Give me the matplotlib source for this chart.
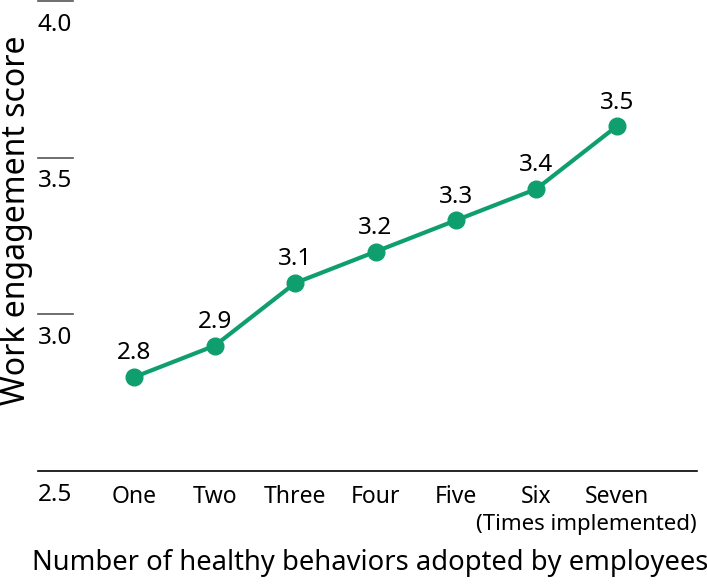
import numpy as np
import matplotlib
matplotlib.use('Agg')
import matplotlib.pyplot as plt
import matplotlib.transforms as mtransforms

plt.rcParams['font.family'] = ['Noto Sans', 'DejaVu Sans']

categories = ['One', 'Two', 'Three', 'Four', 'Five', 'Six', 'Seven']
scores = [2.8, 2.9, 3.1, 3.2, 3.3, 3.4, 3.6]
score_labels = ['2.8', '2.9', '3.1', '3.2', '3.3', '3.4', '3.5']
y_ticks = [2.5, 3.0, 3.5, 4.0]
y_tick_labels = ['2.5', '3.0', '3.5', '4.0']

green = '#0f9f6e'

fig = plt.figure(figsize=(7.07, 5.84), dpi=100)
ax = fig.add_axes([38 / 707, 113 / 584, 659 / 707, 470 / 584])

x = np.arange(len(categories))
ax.plot(x, scores, '-', color=green, linewidth=3, marker='o', markersize=12,
        solid_capstyle='round')
for xi, yi, lab in zip(x, scores, score_labels):
    ax.annotate(lab, (xi, yi), xytext=(0, 17), textcoords='offset points',
                ha='center', va='center', fontsize=17.5)

ax.set_xlim(-1.2, 7.0)
ax.set_ylim(2.5, 4.0)

for s in ['top', 'right', 'left']:
    ax.spines[s].set_visible(False)
ax.spines['bottom'].set_linewidth(1.2)

ax.set_xticks(x, categories, fontsize=16.5)
ax.tick_params(axis='x', length=0, pad=10)
ax.set_yticks([])

# short tick marks with labels below them
trans = mtransforms.blended_transform_factory(ax.transAxes, ax.transData)
for yt in y_ticks[1:]:
    ax.plot([0, 0.053], [yt, yt], color='#555555', linewidth=1.2,
            transform=trans, clip_on=False)
for yt, yl in zip(y_ticks, y_tick_labels):
    ax.annotate(yl, (0, yt), xycoords=trans, xytext=(0, -17),
                textcoords='offset points', ha='left', va='center',
                fontsize=17.5, annotation_clip=False)

ax.text(1.0, -0.113, '(Times implemented)', transform=ax.transAxes,
        ha='right', va='center', fontsize=16)

fig.text(17 / 707, 1 - 220 / 584, 'Work engagement score', rotation=90,
         ha='center', va='center', fontsize=23)
fig.text(370 / 707, 1 - 563 / 584,
         'Number of healthy behaviors adopted by employees',
         ha='center', va='center', fontsize=19.7)

fig.savefig('out.png', dpi=100)
